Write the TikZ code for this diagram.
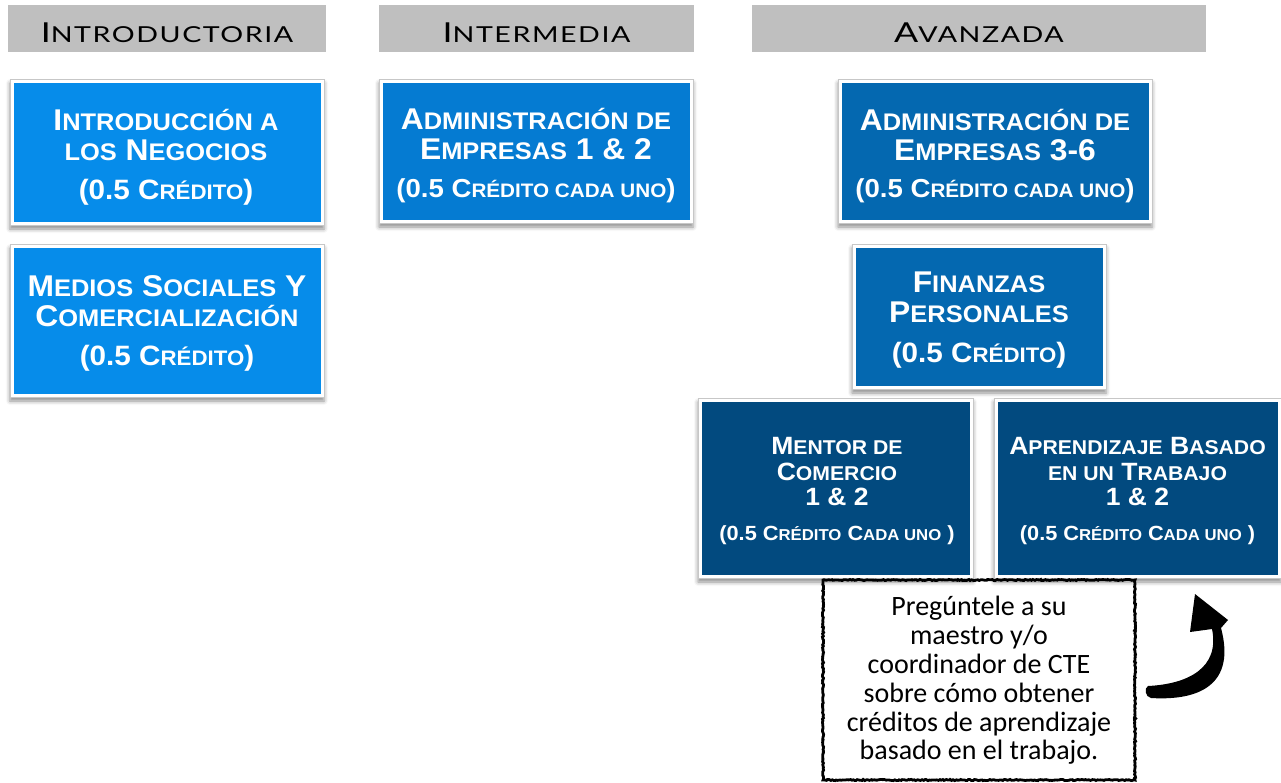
\documentclass[tikz,border=0pt]{standalone}
\usepackage{fontspec}
\setmainfont{Liberation Sans}[FakeStretch=1.06]
\newfontfamily\hdfont{Lato}[FakeStretch=1.3, LetterSpace=7]
\newfontfamily\notefont{Carlito}
\usetikzlibrary{shadows.blur,decorations.pathmorphing}
\definecolor{hdgray}{RGB}{191,191,191}
\definecolor{cA}{RGB}{6,140,234}
\definecolor{cB}{RGB}{5,123,210}
\definecolor{cC}{RGB}{4,104,176}
\definecolor{cD}{RGB}{2,74,127}
\makeatletter
\newcommand\skr{0.8}
\newcommand\sk[1]{{\fontsize{\strip@pt\dimexpr\skr\dimexpr\f@size pt\relax\relax}{\f@baselineskip}\selectfont #1}}
\makeatother
\newcommand\cred[2]{{\fontsize{#1}{30}\selectfont\def\skr{0.75}#2}}
\tikzset{
  hdbar/.style={fill=hdgray, minimum height=47pt, inner sep=0pt,
    text height=28.4pt, text depth=0pt,
    font=\hdfont\fontsize{27.5}{27.5}\selectfont},
  box/.style={fill=white, draw=black!22, line width=0.6pt,
    blur shadow={shadow xshift=0pt, shadow yshift=-4pt, shadow blur radius=4pt, shadow opacity=45},
    inner sep=0pt,
    path picture={\fill[#1] ([shift={(3.5pt,3.5pt)}]path picture bounding box.south west)
      rectangle ([shift={(-3.5pt,-3.5pt)}]path picture bounding box.north east);}},
  boxtxt/.style={text=white, align=center, inner sep=0pt,
    font=\bfseries\fontsize{30}{30}\selectfont},
  smalltxt/.style={text=white, align=center, inner sep=0pt,
    font=\bfseries\fontsize{25}{25.5}\selectfont},
  notebox/.style={draw=black, line width=2.8pt,
    decorate, decoration={random steps, segment length=1.5pt, amplitude=0.6pt}},
  notetxt/.style={align=center, inner sep=0pt, text=black,
    font=\notefont\fontsize{28}{28.8}\selectfont},
}
\begin{document}
\begin{tikzpicture}[x=1pt,y=-1pt]
\useasboundingbox (0,0) rectangle (1281,782);
% headers
\node[hdbar, minimum width=318pt] (h1) at (167,28.5) {I\sk{NTRODUCTORIA}};
\node[hdbar, minimum width=315pt] (h2) at (536.5,28.5) {I\sk{NTERMEDIA}};
\node[hdbar, minimum width=454pt] (h3) at (979,28.5) {A\sk{VANZADA}};
% boxes
\node[box=cA, minimum width=314pt, minimum height=146pt] (intro) at (167,152) {};
\node[boxtxt] (introT) at (166,157) {I\sk{NTRODUCCIÓN A}\\ \sk{LOS} N\sk{EGOCIOS}\\[9pt]\cred{28}{(0.5 C\sk{RÉDITO})}};
\node[box=cA, minimum width=314pt, minimum height=153pt] (medios) at (167,320.5) {};
\node[boxtxt] (mediosT) at (167,323.5) {M\sk{EDIOS} S\sk{OCIALES} Y\\ C\sk{OMERCIALIZACIÓN}\\[9pt]\cred{28}{(0.5 C\sk{RÉDITO})}};
\node[box=cB, minimum width=314pt, minimum height=144pt] (adm12) at (536,151) {};
\node[boxtxt] (adm12T) at (536,156) {A\sk{DMINISTRACIÓN DE}\\ E\sk{MPRESAS} 1 \& 2\\[8pt]\cred{26}{(0.5 C\sk{RÉDITO CADA UNO})}};
\node[box=cC, minimum width=314pt, minimum height=144pt] (adm36) at (995,151) {};
\node[boxtxt] (adm36T) at (995,156) {A\sk{DMINISTRACIÓN DE}\\ E\sk{MPRESAS} 3-6\\[7pt]\cred{26}{(0.5 C\sk{RÉDITO CADA UNO})}};
\node[box=cC, minimum width=254pt, minimum height=145pt] (fin) at (979,316.5) {};
\node[boxtxt] (finT) at (979,320.5) {F\sk{INANZAS}\\ P\sk{ERSONALES}\\[10pt]\cred{28}{(0.5 C\sk{RÉDITO})}};
\node[box=cD, minimum width=275pt, minimum height=180pt] (mentor) at (835.5,488) {};
\node[smalltxt] (mentorT) at (837,491) {M\sk{ENTOR DE}\\ C\sk{OMERCIO}\\ 1 \& 2\\[9pt]{\fontsize{20.5}{25.5}\selectfont\def\skr{0.77}(0.5 C\sk{RÉDITO} C\sk{ADA UNO} )}};
\node[box=cD, minimum width=287pt, minimum height=180pt] (aprend) at (1137.5,488) {};
\node[smalltxt] (aprendT) at (1137.5,491) {A\sk{PRENDIZAJE} B\sk{ASADO}\\ \sk{EN UN} T\sk{RABAJO}\\ 1 \& 2\\[9pt]{\fontsize{20.5}{25.5}\selectfont\def\skr{0.77}(0.5 C\sk{RÉDITO} C\sk{ADA UNO} )}};
% note
\coordinate (nA) at (823,580);
\coordinate (nB) at (1135,780);
\draw[notebox] (nA) rectangle (nB);
\node[notetxt] (noteT) at (979,680.5) {Pregúntele a su\\maestro y/o\\coordinador de CTE\\sobre cómo obtener\\créditos de aprendizaje\\basado en el trabajo.};
% curved arrow
\fill[black] (1148,686) .. controls (1188,684) and (1220,668) .. (1212,629)
  -- (1190,632) -- (1195,594) -- (1228,620) -- (1221,628)
  .. controls (1236,684) and (1200,701) .. (1151,698)
  .. controls (1145,697) and (1144,688) .. cycle;
\end{tikzpicture}
\end{document}
